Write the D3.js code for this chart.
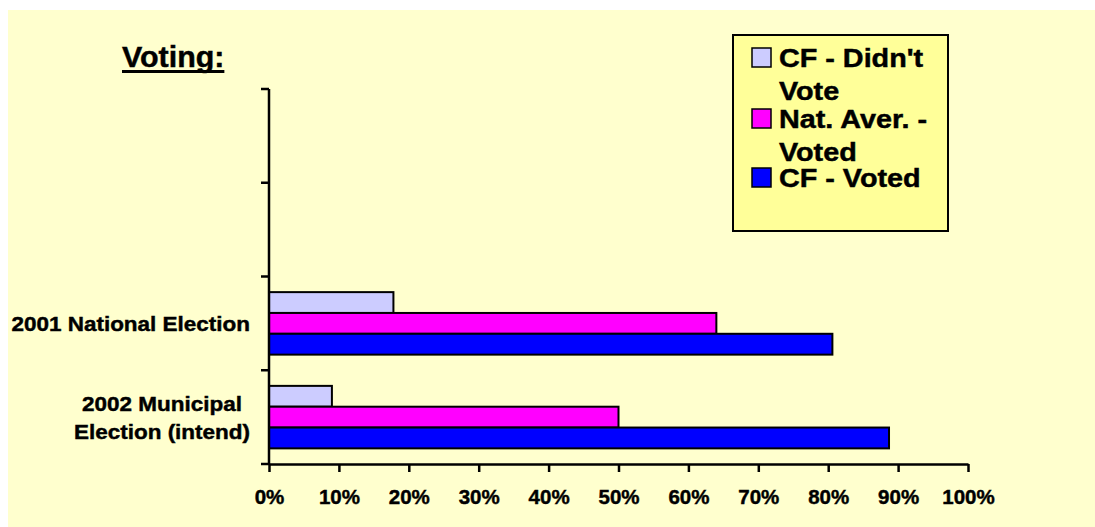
<!DOCTYPE html>
<html><head><meta charset="utf-8">
<script src="https://cdn.jsdelivr.net/npm/d3@7"></script>
<style>
html,body{margin:0;padding:0;background:#fff;}
text{font-family:"Liberation Sans",Arial,sans-serif;font-weight:bold;fill:#000;stroke:#000;stroke-width:0.45px;}
</style></head>
<body>
<svg id="chart" width="1095" height="527"></svg>
<script>
const categories = ["cat1", "cat2", "2001 National Election", "2002 Municipal Election (intend)"];
const categoryLabels = [[], [], ["2001 National Election"], ["2002 Municipal", "Election (intend)"]];
const seriesNames = ["CF - Didn't Vote", "Nat. Aver. - Voted", "CF - Voted"];
const legendLines = [["CF - Didn't", "Vote"], ["Nat. Aver. -", "Voted"], ["CF - Voted"]];
const seriesColors = ["#CCCCFF", "#FF00FF", "#0000FF"];
const cfDidntVote = [null, null, 17.8, 9];
const natAverVoted = [null, null, 64, 50];
const cfVoted = [null, null, 80.6, 88.7];
const xTicks = [0, 10, 20, 30, 40, 50, 60, 70, 80, 90, 100];
const title = "Voting:";

const seriesValues = [cfDidntVote, natAverVoted, cfVoted];
const svg = d3.select("#chart");

function stretch(sel, factor) {
  const w = sel.node().getComputedTextLength();
  sel.attr("textLength", w * factor).attr("lengthAdjust", "spacingAndGlyphs");
  return w * factor;
}

// background
svg.append("rect").attr("x", 8).attr("y", 10).attr("width", 1087).attr("height", 517).attr("fill", "#FFFFCE");

const x = d3.scaleLinear().domain([0, 100]).range([269, 968]);
const y = d3.scaleBand().domain(categories).range([89, 464]).paddingInner(0).paddingOuter(0);
const groupPad = y.bandwidth() / 6;
const ySub = d3.scaleBand().domain(seriesNames).range([groupPad, y.bandwidth() - groupPad]);

// bars
categories.forEach((c, ci) => {
  seriesNames.forEach((s, si) => {
    const v = seriesValues[si][ci];
    if (v == null) return;
    svg.append("rect")
      .attr("x", x(0))
      .attr("y", y(c) + ySub(s))
      .attr("width", x(v) - x(0))
      .attr("height", ySub.bandwidth())
      .attr("fill", seriesColors[si])
      .attr("stroke", "#000")
      .attr("stroke-width", 2);
  });
});

// x axis
const xAxis = d3.axisBottom(x).tickValues(xTicks).tickFormat(d => d + "%").tickSize(8).tickSizeOuter(0);
const gx = svg.append("g").attr("transform", "translate(0,464)").call(xAxis);
gx.select(".domain").attr("stroke", "#000").attr("stroke-width", 2.5);
gx.selectAll(".tick line").attr("stroke", "#000").attr("stroke-width", 2.5);
gx.selectAll(".tick text").attr("y", 40).attr("dy", null).style("font-size", "20.5px")
  .style("font-family", "'Liberation Sans', Arial, sans-serif").style("font-weight", "bold")
  .attr("fill", "#000").style("stroke", "#000").style("stroke-width", "0.45px");

// y axis (ticks at band boundaries)
svg.append("line").attr("x1", 269).attr("x2", 269).attr("y1", 89).attr("y2", 464)
  .attr("stroke", "#000").attr("stroke-width", 2.5);
const boundaries = categories.map(c => y(c)).concat([y.range()[1]]);
svg.selectAll(".ytick").data(boundaries).enter().append("line")
  .attr("x1", 261).attr("x2", 269).attr("y1", d => d).attr("y2", d => d)
  .attr("stroke", "#000").attr("stroke-width", 2.5);

// category labels
categories.forEach((c, ci) => {
  const lines = categoryLabels[ci];
  if (!lines.length) return;
  const cy = y(c) + y.bandwidth() / 2;
  const lh = 28;
  const g = svg.append("g");
  const texts = lines.map((l, li) => g.append("text")
    .attr("y", cy + 7.5 + (li - (lines.length - 1) / 2) * lh)
    .style("font-size", "21px").attr("text-anchor", "middle").text(l));
  let maxW = 0;
  texts.forEach(t => { maxW = Math.max(maxW, stretch(t, 1.07)); });
  if (lines.length === 1) {
    texts[0].attr("text-anchor", "end").attr("x", 250);
  } else {
    texts.forEach(t => t.attr("x", 250 - maxW / 2));
  }
});

// title
const tt = svg.append("text").attr("x", 122).attr("y", 67).style("font-size", "29.5px").text(title);
const tw = stretch(tt, 1.03);
svg.append("rect").attr("x", 122).attr("y", 70).attr("width", tw).attr("height", 3).attr("fill", "#000");

// legend
svg.append("rect").attr("x", 733).attr("y", 35).attr("width", 215).attr("height", 196)
  .attr("fill", "#FFFF99").attr("stroke", "#000").attr("stroke-width", 2);
const legendBaselines = [67, 128, 187];
seriesNames.forEach((s, si) => {
  const b = legendBaselines[si];
  svg.append("rect").attr("x", 752).attr("y", b - 19).attr("width", 19).attr("height", 19)
    .attr("fill", seriesColors[si]).attr("stroke", "#000").attr("stroke-width", 1.5);
  legendLines[si].forEach((l, li) => {
    const t = svg.append("text").attr("x", 779).attr("y", b + li * 33).style("font-size", "25px").text(l);
    stretch(t, 1.15);
  });
});
</script>
</body></html>
